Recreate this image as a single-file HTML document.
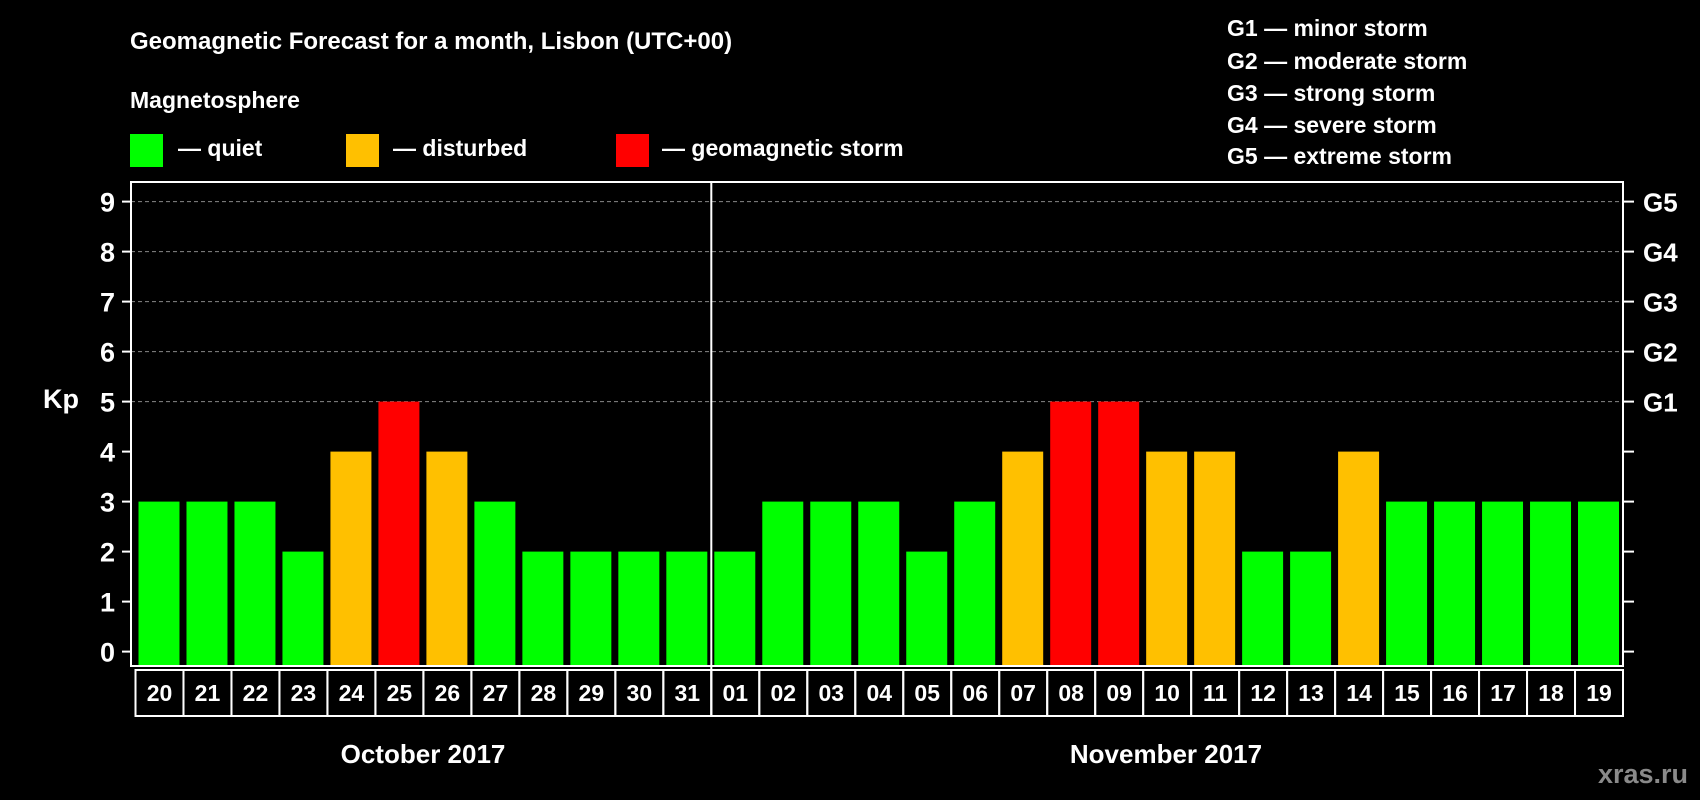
<!DOCTYPE html>
<html><head><meta charset="utf-8"><style>
html,body{margin:0;padding:0;background:#000;}
svg{display:block;font-family:"Liberation Sans",Arial,sans-serif;font-weight:bold;}
</style></head><body>
<svg id="chart" width="1700" height="800" viewBox="0 0 1700 800" xmlns="http://www.w3.org/2000/svg">
<rect width="1700" height="800" fill="#000"/>
<text x="130" y="49" fill="#fff" font-size="24">Geomagnetic Forecast for a month, Lisbon (UTC+00)</text>
<text x="130" y="108" fill="#fff" font-size="23">Magnetosphere</text>
<g><rect x="130" y="134" width="33" height="33" fill="#00ff00"/><text x="178" y="156" fill="#fff" font-size="23">— quiet</text></g>
<g><rect x="346" y="134" width="33" height="33" fill="#ffc000"/><text x="393" y="156" fill="#fff" font-size="23">— disturbed</text></g>
<g><rect x="616" y="134" width="33" height="33" fill="#ff0000"/><text x="662" y="156" fill="#fff" font-size="23">— geomagnetic storm</text></g>
<g fill="#fff" font-size="23">
<text x="1227" y="36">G1 — minor storm</text>
<text x="1227" y="69">G2 — moderate storm</text>
<text x="1227" y="101">G3 — strong storm</text>
<text x="1227" y="133">G4 — severe storm</text>
<text x="1227" y="164">G5 — extreme storm</text>
</g>
<text x="43" y="408" fill="#fff" font-size="27">Kp</text>
<g id="plot"></g>
<text x="423" y="763" fill="#fff" font-size="26" text-anchor="middle">October 2017</text>
<text x="1166" y="763" fill="#fff" font-size="26" text-anchor="middle">November 2017</text>
<text x="1688" y="783" fill="#8a8a8a" font-size="27" text-anchor="end">xras.ru</text>
</svg>
<script>
const days = ["20","21","22","23","24","25","26","27","28","29","30","31","01","02","03","04","05","06","07","08","09","10","11","12","13","14","15","16","17","18","19"];
const kpValues = [3,3,3,2,4,5,4,3,2,2,2,2,2,3,3,3,2,3,4,5,5,4,4,2,2,4,3,3,3,3,3];
const yTicks = [0,1,2,3,4,5,6,7,8,9];
const gLabels = ["G1","G2","G3","G4","G5"];
const gLevels = [5,6,7,8,9];

const NS="http://www.w3.org/2000/svg";
const plot=document.getElementById('plot');
const L=131,R=1623,T=182,B=666, X0=135.5, slot=(R-X0)/days.length;
const y=v=>651.6-v*50;
const x=i=>X0+i*slot;
function mk(tag,attrs){const e=document.createElementNS(NS,tag);for(const k in attrs)e.setAttribute(k,attrs[k]);plot.appendChild(e);return e;}
gLevels.forEach((g,i)=>{
  const l=mk('line',{x1:L,x2:R,y1:y(g),y2:y(g),stroke:'#888','stroke-width':1,'stroke-dasharray':'4,3'});
  
  
  const t=mk('text',{x:1643,y:y(g)+10,fill:'#fff','font-size':26});
  t.textContent=gLabels[i];
  
  
});
yTicks.forEach(v=>{
  const tk=mk('line',{x1:122,x2:L,y1:y(v),y2:y(v),stroke:'#fff','stroke-width':2});
  
  
  const tr=mk('line',{x1:R,x2:1634,y1:y(v),y2:y(v),stroke:'#fff','stroke-width':2});
  
  
  const t=mk('text',{x:115,y:y(v)+10,fill:'#fff','font-size':27,'text-anchor':'end'});
  t.textContent=v;
  
  
});
kpValues.forEach((v,i)=>{
  const c=v>=5?'#ff0000':(v>=4?'#ffc000':'#00ff00');
  const b=mk('rect',{x:x(i)+3,y:y(v),width:slot-7,height:B-1-y(v),fill:c});
  
  
  const bx=mk('rect',{x:x(i),y:670,width:slot,height:46,fill:'none',stroke:'#fff','stroke-width':2});
  
  
  const t=mk('text',{x:x(i)+slot/2,y:701,fill:'#fff','font-size':23,'text-anchor':'middle'});
  t.textContent=days[i];
  
  
});
const fr=mk('rect',{x:L,y:T,width:R-L,height:B-T,fill:'none',stroke:'#fff','stroke-width':2});


const dv=mk('line',{x1:x(12),x2:x(12),y1:T,y2:716,stroke:'#fff','stroke-width':2});


</script>
</body></html>
